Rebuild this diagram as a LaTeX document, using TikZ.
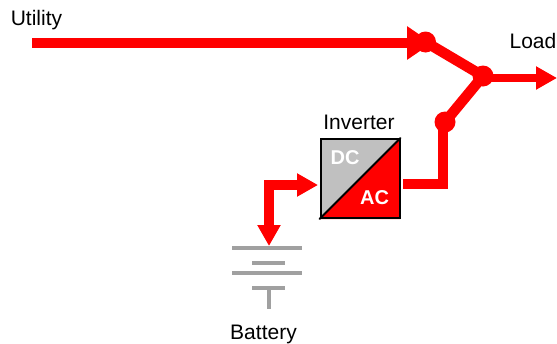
\documentclass[tikz,border=0pt]{standalone}
\usepackage{fontspec}
\setmainfont{Liberation Sans}
\usetikzlibrary{arrows.meta}
\definecolor{pwr}{RGB}{255,0,0}
\definecolor{dcgrey}{RGB}{192,192,192}
\definecolor{batgrey}{RGB}{160,160,160}
\tikzset{
  flow/.style={draw=pwr,line width=10.5pt,line cap=butt,line join=miter},
  flowthin/.style={draw=pwr,line width=8.5pt,line cap=butt},
  bigtip/.style={-{Triangle[length=25pt,width=32pt,color=pwr]}},
  midtip/.style={-{Triangle[length=21pt,width=22pt,color=pwr]}},
  joint/.style={circle,fill=pwr,minimum size=21pt,inner sep=0pt},
  lbl/.style={font=\fontsize{21}{24}\selectfont,text=black,inner sep=0pt},
  conv/.style={font=\fontsize{20}{23}\selectfont\bfseries,text=white,inner sep=0pt},
  bat/.style={draw=batgrey,line width=4pt},
  batstem/.style={draw=batgrey,line width=4.5pt}
}
\begin{document}
\begin{tikzpicture}[x=1pt,y=-1pt]
\useasboundingbox (0,0) rectangle (557,343);
% inverter
\fill[dcgrey] (320,138) -- (400,138) -- (320,219) -- cycle;
\fill[pwr] (400,138) -- (400,219) -- (320,219) -- cycle;
\node[draw=black,line width=2pt,minimum size=79pt,inner sep=0pt] (inv) at (360,178.5) {};
\draw[black,line width=2pt,line cap=round] (inv.north east) -- (inv.south west);
\node[conv] (dc) at (345,157.5) {DC};
\node[conv] (ac) at (374.5,197.5) {AC};
\node[lbl] (invlbl) at (359,122) {Inverter};
% labels
\node[lbl] (utility) at (36.5,20.5) {Utility};
\node[lbl] (load) at (533,41) {Load};
\node[lbl] (battery) at (263.5,334) {Battery};
% joints
\node[joint] (j1) at (425.5,42) {};
\node[joint] (j2) at (483,76) {};
\node[joint] (j3) at (445,122) {};
% coordinates
\coordinate (us) at (32,43);
\coordinate (ut) at (432,43);
\coordinate (ls) at (483,78);
\coordinate (lt) at (557,78);
\coordinate (acout) at (403,184);
\coordinate (bend) at (443,184);
\coordinate (dcin) at (318,185);
\coordinate (corner) at (269,185);
\coordinate (battop) at (269,246);
% flows
\draw[flow,bigtip] (us) -- (ut);
\draw[flow] (j1.center) -- (j2.center);
\draw[flow] (j3.center) -- (j2.center);
\draw[flowthin,midtip] (ls) -- (lt);
\draw[flow] (acout) -- (bend) -- (bend |- j3);
\draw[flow,midtip] (corner) ++(-5,0) -- (dcin);
\draw[flow,midtip] (corner) -- (battop);
% battery
\draw[bat] (232,248) -- (302,248);
\draw[bat] (252,263) -- (285,263);
\draw[bat] (232,273) -- (302,273);
\draw[bat] (252,288) -- (285,288);
\draw[batstem] (269,288) -- (269,309);
\end{tikzpicture}
\end{document}
